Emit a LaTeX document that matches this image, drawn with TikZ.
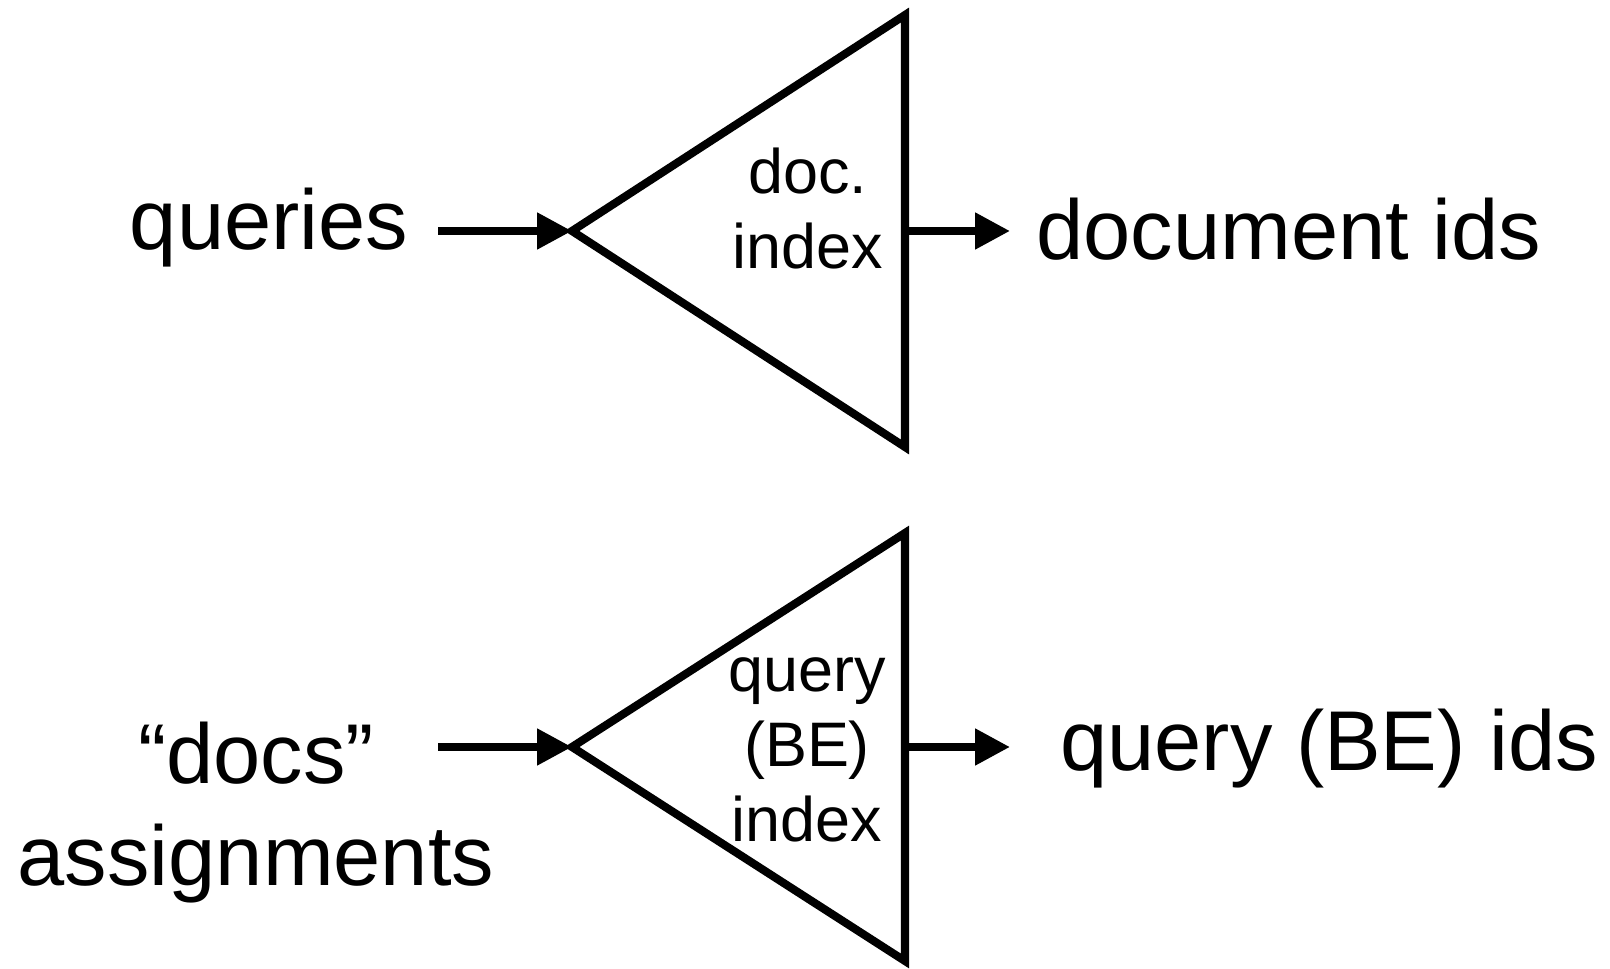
\documentclass[tikz,border=0pt]{standalone}
\usepackage{fontspec}
\setmainfont{Liberation Sans}
\usetikzlibrary{arrows.meta}
\tikzset{
  bigtext/.style={font=\fontsize{48.3pt}{58pt}\selectfont, inner sep=0pt, align=center},
  smalltext/.style={font=\fontsize{35.8pt}{42.7pt}\selectfont, inner sep=0pt, align=center},
  flow/.style={line width=4.6pt, -{Triangle[length=0.7cm,width=0.7cm]}},
  index/.style={line width=4.6pt}
}
\begin{document}
\begin{tikzpicture}[x=0.02cm, y=-0.02cm]
    \useasboundingbox (0,0) rectangle (1610,969);
    % document index
    \coordinate (docapex) at (572,231);
    \coordinate (doctop) at (905,15);
    \coordinate (docbot) at (905,447);
    \coordinate (docside) at (905,231);
    \draw[index] (docapex) -- (doctop) -- (docbot) -- cycle;
    \node[smalltext] (docidx) at (808,209) {doc.\\index};
    \node[bigtext, anchor=base] (queries) at (269,250) {queries};
    \coordinate (queriesend) at (438,231);
    \draw[flow] (queriesend) -- (docapex);
    \node[bigtext, anchor=base west] (docids) at (1036,260) {document ids};
    \coordinate (docidsend) at (1010,231);
    \draw[flow] (docside) -- (docidsend);
    % query (BE) index
    \coordinate (qryapex) at (572,747);
    \coordinate (qrytop) at (905,533);
    \coordinate (qrybot) at (905,961);
    \coordinate (qryside) at (905,747);
    \draw[index] (qryapex) -- (qrytop) -- (qrybot) -- cycle;
    \node[smalltext] (qryidx) at (807,750) {query\\(BE)\\index};
    \node[bigtext] (assign) at (256,813) {“docs”\\assignments};
    \coordinate (assignend) at (438,747);
    \draw[flow] (assignend) -- (qryapex);
    \node[bigtext, anchor=base west] (qryids) at (1060,770) {query (BE) ids};
    \coordinate (qryidsend) at (1010,747);
    \draw[flow] (qryside) -- (qryidsend);
\end{tikzpicture}
\end{document}
